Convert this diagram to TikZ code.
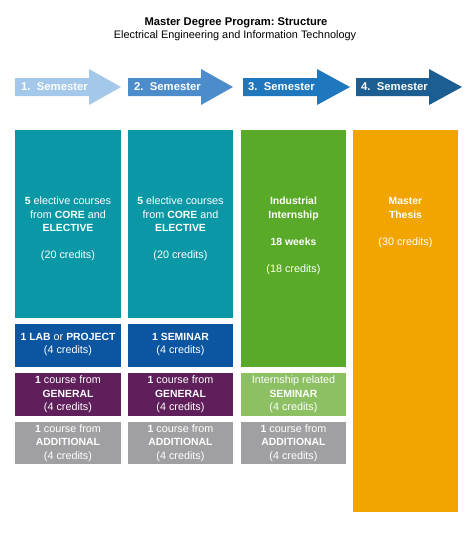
\documentclass[tikz,border=0pt]{standalone}
\usepackage{fontspec}
\setmainfont{Liberation Sans}
\frenchspacing
\newcommand{\bx}[1]{{\fontsize{10.4}{13.5}\selectfont\bfseries #1}}
\begin{document}
\begin{tikzpicture}[x=1pt,y=-1pt,
  box/.style={rectangle, draw=none, inner sep=0pt, outer sep=0pt, anchor=north west},
  txt/.style={text=white, align=center, inner sep=0pt, font=\fontsize{10.8}{13.5}\selectfont},
  semtxt/.style={text=white, anchor=west, inner sep=0pt, font=\fontsize{11.3}{13}\selectfont\bfseries},
]
\definecolor{arA}{HTML}{A4C8EA}
\definecolor{arB}{HTML}{4D8CCB}
\definecolor{arC}{HTML}{1F77BE}
\definecolor{arD}{HTML}{1D5E92}
\definecolor{teal}{HTML}{0A98A6}
\definecolor{blueb}{HTML}{0C55A0}
\definecolor{purp}{HTML}{5E1F5A}
\definecolor{grayb}{HTML}{A0A0A2}
\definecolor{greenb}{HTML}{5AAA2A}
\definecolor{lgreen}{HTML}{8CC063}
\definecolor{orangeb}{HTML}{F2A500}
\useasboundingbox[fill=white] (0,0) rectangle (474,536);

% title
\node[inner sep=0pt, font=\fontsize{11.2}{13}\selectfont\bfseries] (title) at (236,23) {Master Degree Program: Structure};
\node[inner sep=0pt, font=\fontsize{10.9}{13}\selectfont] (subtitle) at (235,36) {Electrical Engineering and Information Technology};

% semester arrows
\newcommand{\semarrow}[4]{% x0, xhead, xtip, color
  \fill[#4] (#1,78) -- (#2,78) -- (#2,69) -- (#3,87) -- (#2,105) -- (#2,96) -- (#1,96) -- cycle;}
\semarrow{15}{89}{121}{arA}
\semarrow{128}{201}{233}{arB}
\semarrow{243}{317}{350}{arC}
\semarrow{356}{429}{462}{arD}
\node[semtxt] (s1) at (21,87) {1.\ \ Semester};
\node[semtxt] (s2) at (134,87) {2.\ \ Semester};
\node[semtxt] (s3) at (248,87) {3.\ \ Semester};
\node[semtxt] (s4) at (361,87) {4.\ \ Semester};

% column 1
\node[box, fill=teal, minimum width=106pt, minimum height=188pt] (c1a) at (15,130) {};
\node[box, fill=blueb, minimum width=106pt, minimum height=43pt] (c1b) at (15,324) {};
\node[box, fill=purp, minimum width=106pt, minimum height=43pt] (c1c) at (15,373) {};
\node[box, fill=grayb, minimum width=106pt, minimum height=42pt] (c1d) at (15,422) {};
% column 2
\node[box, fill=teal, minimum width=105pt, minimum height=188pt] (c2a) at (128,130) {};
\node[box, fill=blueb, minimum width=105pt, minimum height=43pt] (c2b) at (128,324) {};
\node[box, fill=purp, minimum width=105pt, minimum height=43pt] (c2c) at (128,373) {};
\node[box, fill=grayb, minimum width=105pt, minimum height=42pt] (c2d) at (128,422) {};
% column 3
\node[box, fill=greenb, minimum width=105pt, minimum height=237pt] (c3a) at (241,130) {};
\node[box, fill=lgreen, minimum width=105pt, minimum height=43pt] (c3c) at (241,373) {};
\node[box, fill=grayb, minimum width=105pt, minimum height=42pt] (c3d) at (241,422) {};
% column 4
\node[box, fill=orangeb, minimum width=105pt, minimum height=382pt] (c4a) at (353,130) {};

% texts
\node[txt] (t1a) at (68,229) {\bx{5} elective courses\\from \bx{CORE} and\\\bx{ELECTIVE}\\ \\(20 credits)};
\node[txt] (t2a) at (180.5,229) {\bx{5} elective courses\\from \bx{CORE} and\\\bx{ELECTIVE}\\ \\(20 credits)};
\node[txt] (t3a) at (293.5,236) {\bx{Industrial}\\\bx{Internship}\\ \\\bx{18 weeks}\\ \\(18 credits)};
\node[txt] (t4a) at (405.5,222.5) {\bx{Master}\\\bx{Thesis}\\ \\(30 credits)};

\node[txt] (t1b) at ([yshift=1pt]c1b.center) {\bx{1 LAB} or \bx{PROJECT}\\(4 credits)};
\node[txt] (t2b) at ([yshift=1pt]c2b.center) {\bx{1 SEMINAR}\\(4 credits)};
\node[txt] (t1c) at (c1c.center) {\bx{1} course from\\\bx{GENERAL}\\(4 credits)};
\node[txt] (t2c) at (c2c.center) {\bx{1} course from\\\bx{GENERAL}\\(4 credits)};
\node[txt] (t3c) at (c3c.center) {Internship related\\\bx{SEMINAR}\\(4 credits)};
\node[txt] (t1d) at (c1d.center) {\bx{1} course from\\\bx{ADDITIONAL}\\(4 credits)};
\node[txt] (t2d) at (c2d.center) {\bx{1} course from\\\bx{ADDITIONAL}\\(4 credits)};
\node[txt] (t3d) at (c3d.center) {\bx{1} course from\\\bx{ADDITIONAL}\\(4 credits)};
\end{tikzpicture}
\end{document}
